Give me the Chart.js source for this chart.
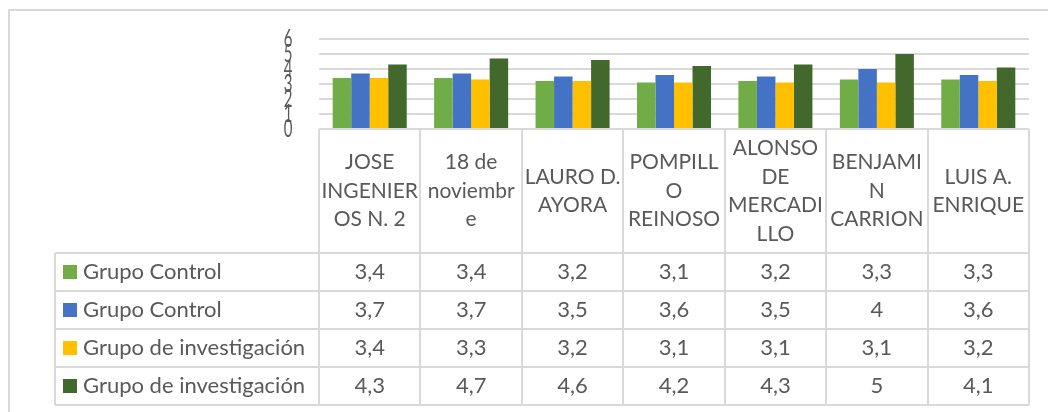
<!DOCTYPE html>
<html>
<head>
<meta charset="utf-8">
<script src="https://cdn.jsdelivr.net/npm/chart.js@4.4.1/dist/chart.umd.min.js"></script>
<style>
  html, body { margin: 0; padding: 0; background: #fff; }
</style>
</head>
<body>
<canvas id="graph" width="1048" height="412"></canvas>
<script>
// categorias (colegios), ya partidas en lineas como en la tabla
const escuelas = [
  ['JOSE', 'INGENIER', 'OS N. 2'],
  ['18 de', 'noviembr', 'e'],
  ['LAURO D.', 'AYORA'],
  ['POMPILL', 'O', 'REINOSO'],
  ['ALONSO', 'DE', 'MERCADI', 'LLO'],
  ['BENJAMI', 'N', 'CARRION'],
  ['LUIS A.', 'ENRIQUE']
];
const control1 = [3.4, 3.4, 3.2, 3.1, 3.2, 3.3, 3.3];
const control2 = [3.7, 3.7, 3.5, 3.6, 3.5, 4, 3.6];
const invest1 = [3.4, 3.3, 3.2, 3.1, 3.1, 3.1, 3.2];
const invest2 = [4.3, 4.7, 4.6, 4.2, 4.3, 5, 4.1];
const yTicks = [0, 1, 2, 3, 4, 5, 6];
const nombres = ['Grupo Control', 'Grupo Control', 'Grupo de investigación', 'Grupo de investigación'];
const colores = ['#70AD47', '#4472C4', '#FFC000', '#43682B'];

const FONT = 'Lato, "Open Sans", sans-serif';
const GRIS = '#d9d9d9';
const TEXTO = '#595959';

function fmt(v) {
  return String(v).replace('.', ',');
}

// eje y con numeros apretados + tabla de datos debajo
const tablaPlugin = {
  id: 'tabla',
  afterDraw(chart) {
    const ctx = chart.ctx;
    const xs = chart.scales.x;
    const ys = chart.scales.y;
    const area = chart.chartArea;
    const left = area.left, right = area.right, top = area.bottom;
    const colW = (right - left) / escuelas.length;
    const headBottom = top + 124;
    const rowH = 38;
    const tablaLeft = 55;
    const series = [control1, control2, invest1, invest2];

    ctx.save();
    // marco exterior
    ctx.strokeStyle = GRIS;
    ctx.lineWidth = 2;
    ctx.beginPath();
    ctx.moveTo(9, 412); ctx.lineTo(9, 10); ctx.lineTo(1048, 10);
    ctx.stroke();

    // etiquetas del eje y
    ctx.fillStyle = TEXTO;
    ctx.font = '25px ' + FONT;
    ctx.textAlign = 'center';
    ctx.textBaseline = 'middle';
    ys.ticks.forEach(t => {
      ctx.save();
      ctx.translate(288, ys.getPixelForValue(t.value));
      ctx.scale(0.6, 1);
      ctx.fillText(String(t.value), 0, 0);
      ctx.restore();
    });

    // lineas de la tabla
    ctx.strokeStyle = GRIS;
    ctx.lineWidth = 2;
    ctx.beginPath();
    ctx.moveTo(left, top); ctx.lineTo(right, top);
    for (let i = 0; i <= escuelas.length; i++) {
      const x = Math.round(left + i * colW);
      ctx.moveTo(x, top); ctx.lineTo(x, headBottom + rowH * series.length);
    }
    for (let r = 0; r <= series.length; r++) {
      const y = headBottom + r * rowH;
      ctx.moveTo(tablaLeft, y); ctx.lineTo(right, y);
    }
    ctx.moveTo(tablaLeft, headBottom); ctx.lineTo(tablaLeft, headBottom + rowH * series.length);
    ctx.stroke();

    // encabezados
    ctx.fillStyle = TEXTO;
    ctx.font = '21px ' + FONT;
    ctx.textAlign = 'center';
    ctx.textBaseline = 'middle';
    const lh = 28.5;
    escuelas.forEach((lineas, i) => {
      const cx = xs.getPixelForValue(i);
      const cy = (top + headBottom) / 2;
      lineas.forEach((l, k) => {
        ctx.fillText(l, cx, cy + (k - (lineas.length - 1) / 2) * lh);
      });
    });

    // filas
    ctx.font = '22px ' + FONT;
    series.forEach((datos, r) => {
      const cy = headBottom + r * rowH + rowH / 2;
      ctx.fillStyle = colores[r];
      ctx.fillRect(63, cy - 7, 14, 14);
      ctx.fillStyle = TEXTO;
      ctx.textAlign = 'left';
      ctx.fillText(nombres[r], 83, cy);
      ctx.textAlign = 'center';
      datos.forEach((v, i) => {
        ctx.fillText(fmt(v), xs.getPixelForValue(i), cy);
      });
    });
    ctx.restore();
  }
};

new Chart(
  document.getElementById('graph'),
  {
    type: 'bar',
    plugins: [tablaPlugin],
    data: {
      labels: escuelas,
      datasets: [control1, control2, invest1, invest2].map((d, i) => ({
        label: nombres[i],
        data: d,
        backgroundColor: colores[i],
        borderWidth: 0,
        categoryPercentage: 0.73,
        barPercentage: 1
      }))
    },
    options: {
      responsive: false,
      animation: false,
      layout: { padding: { left: 289, right: 19, top: 39, bottom: 283 } },
      plugins: { legend: { display: false }, tooltip: { enabled: false } },
      scales: {
        x: { display: false },
        y: {
          min: 0,
          max: 6,
          afterBuildTicks: s => { s.ticks = yTicks.map(v => ({ value: v })); },
          afterFit: s => { s.width = 30; },
          ticks: { display: false },
          grid: { color: GRIS, lineWidth: 2, drawTicks: false },
          border: { display: false }
        }
      }
    }
  }
);
</script>
</body>
</html>
